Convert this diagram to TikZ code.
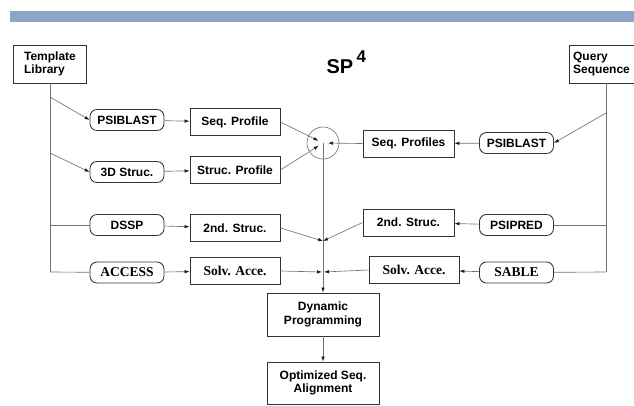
\documentclass[tikz,border=0pt]{standalone}
\usepackage{fontspec}
\setsansfont{Liberation Sans}
\setmainfont{Liberation Serif}
\usetikzlibrary{arrows.meta}
\definecolor{bandblue}{RGB}{140,165,205}
\tikzset{
	box/.style={draw=black!80, line width=0.85pt, minimum width=90pt, minimum height=27pt, inner sep=2pt, font=\fontsize{12}{13.5}\selectfont\sffamily\bfseries},
	tool/.style={box, rounded corners=7pt, minimum width=74pt, minimum height=21pt},
	serif/.style={font=\fontsize{13.5}{14}\selectfont\rmfamily\bfseries},
	wire/.style={draw=black!55, line width=0.65pt},
	arr/.style={wire, -{Latex[length=5pt, width=3.5pt, color=black!90]}},
}

\begin{document}
\begin{tikzpicture}[x=1pt, y=-1pt]
		%%%%% START %%%%%
		\useasboundingbox (0, 0) rectangle (634, 405);
		\fill[bandblue] (10, 11) rectangle (634, 22);
		
		\node[anchor=base west, font=\fontsize{20}{20}\selectfont\sffamily\bfseries] (title) at (323, 73) {SP\,\raisebox{11pt}{\fontsize{17}{17}\selectfont 4}};
		
		\node[box, align=left, minimum width=73pt, minimum height=38pt] (tmpl) at (50, 64) {Template\\Library};
		\node[box, align=left, minimum width=65pt, minimum height=38pt] (query) at (601.5, 64) {Query\\Sequence};
		
		\coordinate (t1) at (50, 97);
		\coordinate (t2) at (50, 153);
		\coordinate (t3) at (50, 225);
		\coordinate (t4) at (50, 272);
		\coordinate (q1) at (606, 113);
		\coordinate (q3) at (606, 225);
		\coordinate (q4) at (606, 272);
		\coordinate (m3) at (323, 241);
		\coordinate (m4) at (323, 272);
		
		% template side
		\node[tool] (psib1) at (127, 120) {PSIBLAST};
		\node[box] (seqp) at (235, 122) {Seq. Profile};
		\node[tool] (struc3d) at (127, 172) {3D Struc.};
		\node[box] (strp) at (235, 170) {Struc. Profile};
		\node[tool] (dssp) at (127, 225) {DSSP};
		\node[box] (sec1) at (235, 228) {2nd. Struc.};
		\node[tool, serif] (access) at (127, 272.5) {ACCESS};
		\node[box, serif] (solv1) at (235, 271) {Solv. Acce.};
		
		% query side
		\node[box, minimum width=91pt] (seqps) at (408.5, 143.5) {Seq. Profiles};
		\node[tool] (psib2) at (516.5, 143) {PSIBLAST};
		\node[box, minimum width=91pt] (sec2) at (408.5, 222.5) {2nd. Struc.};
		\node[tool] (psipred) at (516.5, 225) {PSIPRED};
		\node[box, serif] (solv2) at (414, 270) {Solv. Acce.};
		\node[tool, serif] (sable) at (516.5, 272.5) {SABLE};
		
		\node[circle, draw=black!55, line width=0.65pt, minimum size=32pt, inner sep=0pt] (mix) at (323, 143) {};
		\node[box, minimum width=112pt, minimum height=43pt, align=center] (dp) at (323, 314.5) {Dynamic\\Programming};
		\node[box, minimum width=112pt, minimum height=42pt, align=center] (opt) at (323, 383) {Optimized Seq.\\Alignment};
		
		\draw[wire] (tmpl) -- (t4);
		\draw[wire] (q4 |- query.south) -- (q4);
		
		\draw[arr] (t1) -- (psib1.west);
		\draw[arr] (t2) -- (struc3d.west);
		\draw[wire] (t3) -- (dssp);
		\draw[wire] (t4) -- (access);
		\draw[arr] (q1) -- (psib2.east);
		\draw[wire] (q3) -- (psipred);
		\draw[wire] (q4) -- (sable);
		
		\draw[arr] (psib1) -- (seqp);
		\draw[arr] (struc3d) -- (strp);
		\draw[arr] (dssp) -- (sec1);
		\draw[arr] (access) -- (solv1);
		\draw[arr] (psib2) -- (seqps);
		\draw[arr] (psipred) -- (sec2);
		\draw[arr] (sable) -- (solv2);
		
		\draw[arr, shorten >=5pt] (seqp.east) -- (mix.center);
		\draw[arr, shorten >=5pt] (strp.east) -- (mix.center);
		\draw[arr, shorten >=5pt] (seqps.west) -- (mix.center);
		
		\draw[wire] (mix.center) -- (m4);
		\draw[arr] (sec1.east) -- (m3);
		\draw[arr] (sec2.west) -- (m3);
		\draw[arr, shorten >=1pt] (solv1.east) -- (m4);
		\draw[arr, shorten >=1pt] (solv2.west) -- (m4);
		\draw[arr] (m4) -- (dp);
		\draw[arr] (dp) -- (opt);
		%%%%% END %%%%%
\end{tikzpicture}
\end{document}
